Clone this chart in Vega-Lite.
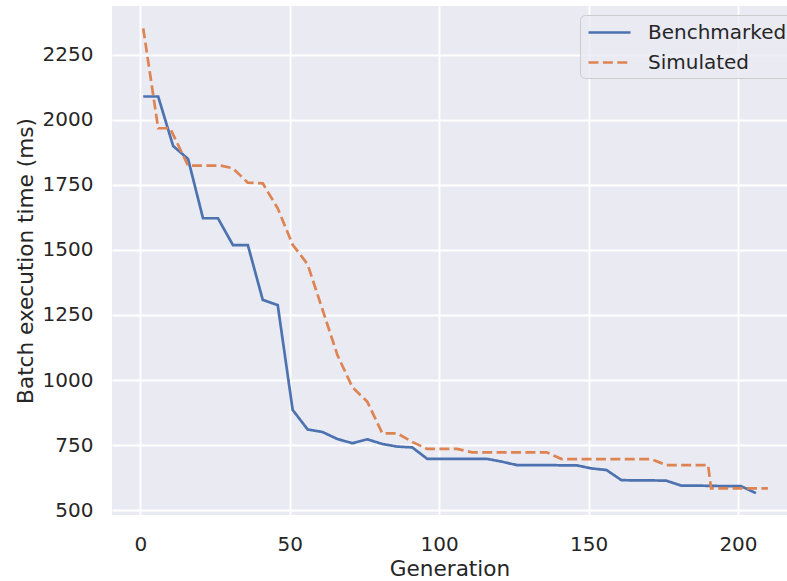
{
  "$schema": "https://vega.github.io/schema/vega-lite/v6.json",
  "autosize": "none",
  "width": 675,
  "height": 509,
  "padding": {"left": 112, "top": 6, "right": 0, "bottom": 66},
  "background": "white",
  "config": {
    "view": {"fill": "#EAEAF2", "stroke": null},
    "font": "DejaVu Sans",
    "axis": {
      "domain": false,
      "ticks": false,
      "tickSize": 0,
      "grid": true,
      "gridColor": "white",
      "gridWidth": 1.8,
      "labelFont": "DejaVu Sans",
      "labelFontSize": 20,
      "labelColor": "#262626",
      "titleFont": "DejaVu Sans",
      "titleFontSize": 21.6,
      "titleFontWeight": "normal",
      "titleColor": "#262626"
    },
    "legend": {
      "title": null,
      "orient": "none",
      "legendX": 468,
      "legendY": 9,
      "symbolType": "M-0.818,0H3",
      "symbolSize": 484,
      "symbolStrokeWidth": 2.7,
      "labelFont": "DejaVu Sans",
      "labelFontSize": 20,
      "labelColor": "#262626",
      "labelOffset": 38,
      "rowPadding": 7,
      "padding": 5,
      "fillColor": "rgba(234,234,242,0.8)",
      "strokeColor": "#CCCCCC",
      "cornerRadius": 5
    }
  },
  "data": {
    "values": [
      {"gen": 1, "time": 2090, "series": "Benchmarked"},
      {"gen": 6, "time": 2090, "series": "Benchmarked"},
      {"gen": 11, "time": 1900, "series": "Benchmarked"},
      {"gen": 16, "time": 1850, "series": "Benchmarked"},
      {"gen": 21, "time": 1622, "series": "Benchmarked"},
      {"gen": 26, "time": 1622, "series": "Benchmarked"},
      {"gen": 31, "time": 1519, "series": "Benchmarked"},
      {"gen": 36, "time": 1519, "series": "Benchmarked"},
      {"gen": 41, "time": 1308, "series": "Benchmarked"},
      {"gen": 46, "time": 1288, "series": "Benchmarked"},
      {"gen": 51, "time": 885, "series": "Benchmarked"},
      {"gen": 56, "time": 810, "series": "Benchmarked"},
      {"gen": 61, "time": 800, "series": "Benchmarked"},
      {"gen": 66, "time": 773, "series": "Benchmarked"},
      {"gen": 71, "time": 757, "series": "Benchmarked"},
      {"gen": 76, "time": 772, "series": "Benchmarked"},
      {"gen": 81, "time": 754, "series": "Benchmarked"},
      {"gen": 86, "time": 744, "series": "Benchmarked"},
      {"gen": 91, "time": 741, "series": "Benchmarked"},
      {"gen": 96, "time": 697, "series": "Benchmarked"},
      {"gen": 101, "time": 697, "series": "Benchmarked"},
      {"gen": 106, "time": 697, "series": "Benchmarked"},
      {"gen": 111, "time": 697, "series": "Benchmarked"},
      {"gen": 116, "time": 697, "series": "Benchmarked"},
      {"gen": 121, "time": 686, "series": "Benchmarked"},
      {"gen": 126, "time": 673, "series": "Benchmarked"},
      {"gen": 131, "time": 673, "series": "Benchmarked"},
      {"gen": 136, "time": 673, "series": "Benchmarked"},
      {"gen": 141, "time": 672, "series": "Benchmarked"},
      {"gen": 146, "time": 672, "series": "Benchmarked"},
      {"gen": 151, "time": 660, "series": "Benchmarked"},
      {"gen": 156, "time": 654, "series": "Benchmarked"},
      {"gen": 161, "time": 615, "series": "Benchmarked"},
      {"gen": 166, "time": 614, "series": "Benchmarked"},
      {"gen": 171, "time": 614, "series": "Benchmarked"},
      {"gen": 176, "time": 613, "series": "Benchmarked"},
      {"gen": 181, "time": 594, "series": "Benchmarked"},
      {"gen": 186, "time": 594, "series": "Benchmarked"},
      {"gen": 191, "time": 593, "series": "Benchmarked"},
      {"gen": 196, "time": 592, "series": "Benchmarked"},
      {"gen": 201, "time": 592, "series": "Benchmarked"},
      {"gen": 206, "time": 565, "series": "Benchmarked"},
      {"gen": 1, "time": 2352, "series": "Simulated"},
      {"gen": 6, "time": 1968, "series": "Simulated"},
      {"gen": 10, "time": 1968, "series": "Simulated"},
      {"gen": 16, "time": 1824, "series": "Simulated"},
      {"gen": 27, "time": 1824, "series": "Simulated"},
      {"gen": 31, "time": 1814, "series": "Simulated"},
      {"gen": 36, "time": 1759, "series": "Simulated"},
      {"gen": 41, "time": 1756, "series": "Simulated"},
      {"gen": 46, "time": 1660, "series": "Simulated"},
      {"gen": 51, "time": 1520, "series": "Simulated"},
      {"gen": 56, "time": 1445, "series": "Simulated"},
      {"gen": 61, "time": 1270, "series": "Simulated"},
      {"gen": 66, "time": 1095, "series": "Simulated"},
      {"gen": 71, "time": 972, "series": "Simulated"},
      {"gen": 76, "time": 916, "series": "Simulated"},
      {"gen": 81, "time": 795, "series": "Simulated"},
      {"gen": 86, "time": 795, "series": "Simulated"},
      {"gen": 91, "time": 762, "series": "Simulated"},
      {"gen": 96, "time": 735, "series": "Simulated"},
      {"gen": 106, "time": 735, "series": "Simulated"},
      {"gen": 111, "time": 722, "series": "Simulated"},
      {"gen": 136, "time": 722, "series": "Simulated"},
      {"gen": 141, "time": 696, "series": "Simulated"},
      {"gen": 171, "time": 696, "series": "Simulated"},
      {"gen": 176, "time": 673, "series": "Simulated"},
      {"gen": 190, "time": 673, "series": "Simulated"},
      {"gen": 191, "time": 583, "series": "Simulated"},
      {"gen": 210, "time": 583, "series": "Simulated"}
    ]
  },
  "mark": {"type": "line", "strokeWidth": 2.7, "clip": true},
  "encoding": {
    "x": {
      "field": "gen",
      "type": "quantitative",
      "title": "Generation",
      "scale": {"domain": [-9.45, 216.4], "nice": false, "zero": false},
      "axis": {"values": [0, 50, 100, 150, 200], "labelPadding": 19, "titlePadding": 4}
    },
    "y": {
      "field": "time",
      "type": "quantitative",
      "title": "Batch execution time (ms)",
      "scale": {"domain": [481, 2438], "nice": false, "zero": false},
      "axis": {"values": [500, 750, 1000, 1250, 1500, 1750, 2000, 2250], "format": "d", "labelPadding": 19, "titlePadding": 5}
    },
    "color": {
      "field": "series",
      "type": "nominal",
      "scale": {"domain": ["Benchmarked", "Simulated"], "range": ["#4C72B0", "#DD8452"]}
    },
    "strokeDash": {
      "field": "series",
      "type": "nominal",
      "scale": {"domain": ["Benchmarked", "Simulated"], "range": [[1, 0], [10, 4.4]]}
    }
  }
}
